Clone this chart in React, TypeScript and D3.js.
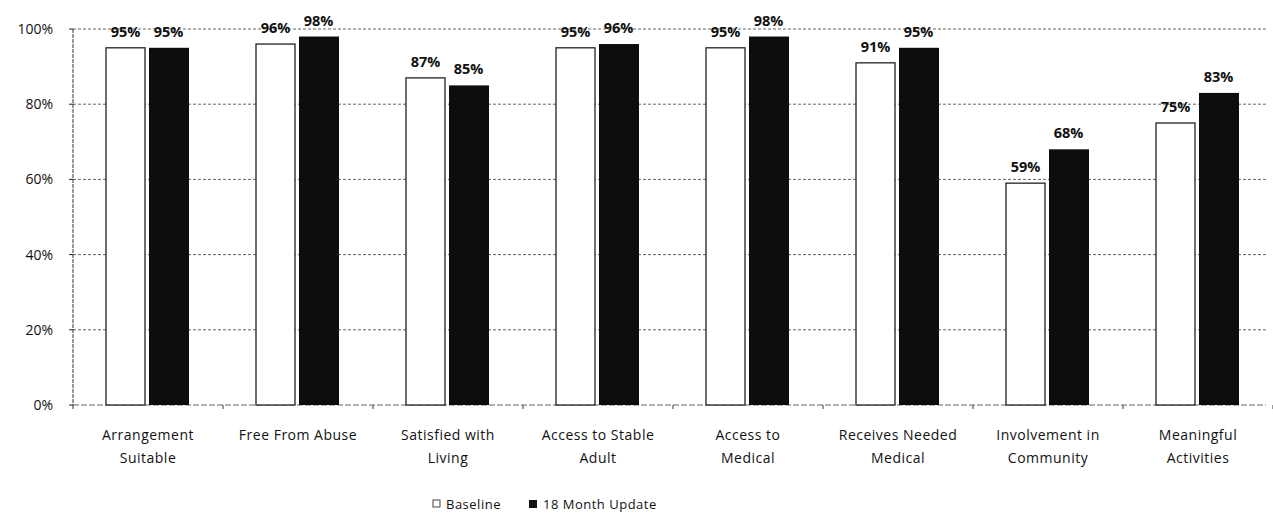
import React from "react";
import * as d3 from "d3";

const categories: string[][] = [
  ["Arrangement", "Suitable"],
  ["Free From Abuse"],
  ["Satisfied with", "Living"],
  ["Access to Stable", "Adult"],
  ["Access to", "Medical"],
  ["Receives Needed", "Medical"],
  ["Involvement in", "Community"],
  ["Meaningful", "Activities"],
];
const baseline = [95, 96, 87, 95, 95, 91, 59, 75];
const update18 = [95, 98, 85, 96, 98, 95, 68, 83];
const yTicks = [0, 20, 40, 60, 80, 100];
const seriesNames = ["Baseline", "18 Month Update"];

const W = 1273;
const H = 517;
const FONT = "'Open Sans', 'DejaVu Sans', sans-serif";

export default function App() {
  const left = 73;
  const right = 1273;
  const top = 29;
  const bottom = 405;
  const x = d3
    .scaleBand<number>()
    .domain(d3.range(categories.length))
    .range([left, right])
    .paddingInner(0)
    .paddingOuter(0);
  const y = d3.scaleLinear().domain([0, 100]).range([bottom, top]);
  const barW = 39;
  const gap = 2;

  return (
    <svg
      width={W}
      height={H}
      style={{ position: "absolute", left: 0, top: 0, background: "#fff" }}
      fontFamily={FONT}
    >
      {/* gridlines */}
      {yTicks.map((t) => (
        <g key={t}>
          <line
            x1={left}
            x2={1266}
            y1={y(t)}
            y2={y(t)}
            stroke="#666"
            strokeWidth={1}
            strokeDasharray={t === 0 ? "6,2" : "3,2"}
          />
          <line x1={left - 4} x2={left} y1={y(t)} y2={y(t)} stroke="#222" />
          <text
            x={53}
            y={y(t)}
            dy="0.35em"
            textAnchor="end"
            fontSize={14}
            fill="#111"
          >
            {t}%
          </text>
        </g>
      ))}
      {/* y axis */}
      <line x1={left} x2={left} y1={top} y2={bottom} stroke="#333" strokeDasharray="4,1" />
      {/* category boundary ticks */}
      {d3.range(categories.length + 1).map((i) => {
        const xx = left + x.step() * i;
        return <line key={i} x1={xx} x2={xx} y1={bottom} y2={bottom + 4} stroke="#333" />;
      })}
      {/* bars */}
      {categories.map((_, i) => {
        const c = (x(i) as number) + x.bandwidth() / 2 - 1;
        const b = baseline[i];
        const u = update18[i];
        return (
          <g key={i}>
            <rect
              x={c - gap - barW}
              y={y(b)}
              width={barW}
              height={bottom - y(b)}
              fill="#fff"
              stroke="#222"
              strokeWidth={1.3}
            />
            <rect
              x={c + gap}
              y={y(u)}
              width={barW + 1}
              height={bottom - y(u)}
              fill="#0d0d0d"
            />
            <text
              x={c - gap - barW / 2}
              y={y(b) - 11}
              textAnchor="middle"
              fontSize={14.5}
              fontWeight={700}
              fill="#111"
            >
              {b}%
            </text>
            <text
              x={c + gap + barW / 2}
              y={y(u) - 11}
              textAnchor="middle"
              fontSize={14.5}
              fontWeight={700}
              fill="#111"
            >
              {u}%
            </text>
          </g>
        );
      })}
      {/* category labels */}
      {categories.map((lines, i) => {
        const c = (x(i) as number) + x.bandwidth() / 2;
        return (
          <text
            key={i}
            x={c}
            textAnchor="middle"
            fontSize={14}
            fill="#111"
            letterSpacing={0.5}
          >
            {lines.map((ln, k) => (
              <tspan key={k} x={c} y={440 + k * 23}>
                {ln}
              </tspan>
            ))}
          </text>
        );
      })}
      {/* legend */}
      <g fontSize={13} fill="#111">
        <rect x={433} y={500} width={7} height={7} fill="#fff" stroke="#444" />
        <text x={446} y={509} letterSpacing={0.5}>
          {seriesNames[0]}
        </text>
        <rect x={529} y={500} width={8} height={8} fill="#111" />
        <text x={543} y={509} letterSpacing={0.5}>
          {seriesNames[1]}
        </text>
      </g>
    </svg>
  );
}
